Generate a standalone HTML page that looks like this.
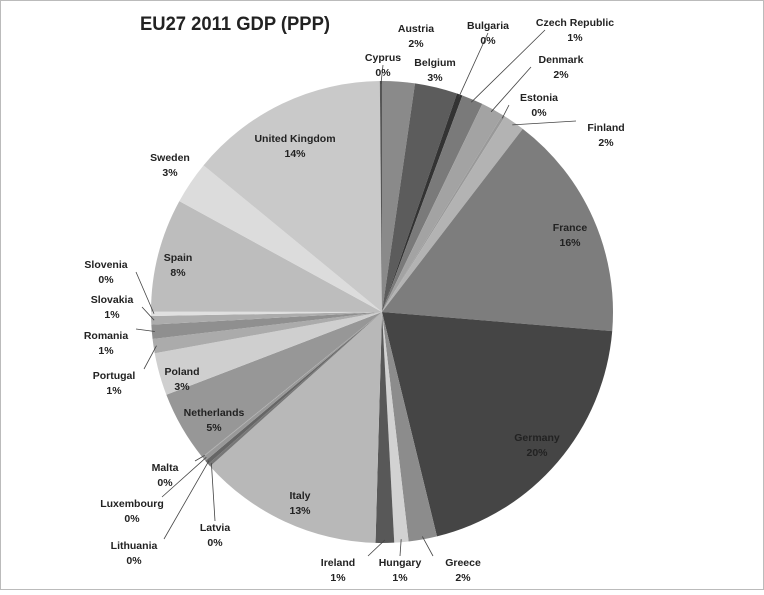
<!DOCTYPE html>
<html><head><meta charset="utf-8"><style>
body{margin:0;background:#fff}
svg text{font-family:"Liberation Sans",sans-serif;font-weight:bold;font-size:10.5px;fill:#222}
</style></head><body>
<svg id="chart" width="764" height="590" xmlns="http://www.w3.org/2000/svg">
<rect x="0.5" y="0.5" width="763" height="589" fill="#fff" stroke="#bbb"/>
<text x="235" y="30" text-anchor="middle" style="font-size:19px" textLength="190" lengthAdjust="spacingAndGlyphs">EU27 2011 GDP (PPP)</text>
<g id="slices"></g><g id="labels"></g>
</svg>
<script>
const countries=["Austria","Belgium","Bulgaria","Czech Republic","Denmark","Estonia","Finland","France","Germany","Greece","Hungary","Ireland","Italy","Latvia","Lithuania","Luxembourg","Malta","Netherlands","Poland","Portugal","Romania","Slovakia","Slovenia","Spain","Sweden","United Kingdom","Cyprus"];
const shares=[2.3,3.0,0.4,1.5,1.6,0.2,1.5,16,20,2,1,1.3,13,0.2,0.3,0.3,0.05,5,3,1,1,0.6,0.3,8,3,14,0.15];
const pctLabels=["2%","3%","0%","1%","2%","0%","2%","16%","20%","2%","1%","1%","13%","0%","0%","0%","0%","5%","3%","1%","1%","1%","0%","8%","3%","14%","0%"];
const colors=["#8a8a8a","#5c5c5c","#333","#7a7a7a","#a3a3a3","#999","#b3b3b3","#7d7d7d","#454545","#8c8c8c","#d2d2d2","#585858","#b8b8b8","#777","#666","#999","#aaa","#979797","#cfcfcf","#ababab","#8f8f8f","#acacac","#e0e0e0","#bdbdbd","#dcdcdc","#c9c9c9","#555"];
const lpos=[[416,32,0],[435,66,0],[488,29,1],[575,26,1],[561,63,1],[539,101,1],[606,131,1],[570,231,0],[537,441,0],[463,566,1],[400,566,1],[338,566,1],[300,499,0],[215,531,1],[134,549,1],[132,507,1],[165,471,1],[214,416,0],[182,375,0],[114,379,1],[106,339,1],[112,303,1],[106,268,1],[178,261,0],[170,161,0],[295,142,0],[383,61,1]];
const cx=382,cy=312,R=231;
const total=shares.reduce((a,b)=>a+b,0);
const ns="http://www.w3.org/2000/svg";
const gS=document.getElementById('slices'),gL=document.getElementById('labels');
function pt(a,r){return [cx+r*Math.sin(a),cy-r*Math.cos(a)];}
let acc=0;
shares.forEach((v,i)=>{
  const a0=acc/total*2*Math.PI;acc+=v;const a1=acc/total*2*Math.PI;
  const p0=pt(a0,R),p1=pt(a1,R);
  const p=document.createElementNS(ns,'path');
  p.setAttribute('d',`M${cx},${cy}L${p0[0]},${p0[1]}A${R},${R} 0 ${a1-a0>Math.PI?1:0} 1 ${p1[0]},${p1[1]}Z`);
  p.setAttribute('fill',colors[i]);
  
  
  gS.appendChild(p);
  const [lx,ly,lead]=lpos[i];
  if(lead){
    const m=pt((a0+a1)/2,R-3);
    const l=document.createElementNS(ns,'line');
    const ex=lx+(m[0]>lx?30:-30)*(Math.abs(m[0]-lx)>30?1:0);
    l.setAttribute('x1',ex);l.setAttribute('y1',ly+(m[1]<ly?-10:4));
    l.setAttribute('x2',m[0]);l.setAttribute('y2',m[1]);
    l.setAttribute('stroke','#444');l.setAttribute('stroke-width','0.8');
    
    
    gL.appendChild(l);
  }
  const t=document.createElementNS(ns,'text');
  t.setAttribute('x',lx);t.setAttribute('y',ly);t.setAttribute('text-anchor','middle');
  
  
  const s1=document.createElementNS(ns,'tspan');s1.textContent=countries[i];
  const s2=document.createElementNS(ns,'tspan');s2.setAttribute('x',lx);s2.setAttribute('dy','15');s2.textContent=pctLabels[i];
  t.appendChild(s1);t.appendChild(s2);gL.appendChild(t);
});
</script>
</body></html>
